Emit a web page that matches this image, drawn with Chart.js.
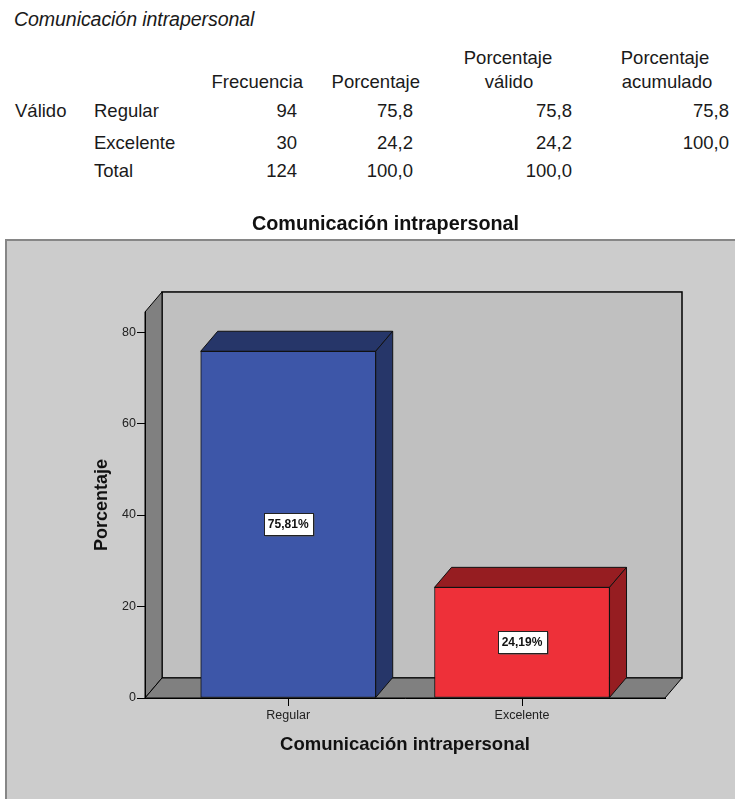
<!DOCTYPE html>
<html>
<head>
<meta charset="utf-8">
<script src="https://cdn.jsdelivr.net/npm/chart.js@4/dist/chart.umd.min.js"></script>
<style>
  html, body { margin: 0; padding: 0; background: #fff; width: 735px; height: 799px; overflow: hidden; }
  body { position: relative; font-family: 'Liberation Sans', Arial, sans-serif; color: #1a1a1a; }
  .t { position: absolute; font-size: 18.5px; line-height: 18.5px; white-space: nowrap; }
  .r { text-align: right; }
  .c { text-align: center; width: 200px; }
  .i { font-style: italic; font-size: 19.6px; line-height: 19.6px; letter-spacing: -0.1px; }
  #wrap { position: absolute; left: 0; top: 200px; width: 735px; height: 599px; }
</style>
</head>
<body>
<div id="tabla"></div>
<div id="wrap"><canvas id="grafico" width="735" height="599"></canvas></div>
<script>
// Frequency table values
const titulo = 'Comunicación intrapersonal';
const categories = ['Regular', 'Excelente'];
const frecuencia = [94, 30];
const tablaPorcentaje = ['75,8', '24,2'];
const tablaValido = ['75,8', '24,2'];
const tablaAcumulado = ['75,8', '100,0'];
const filaTotal = ['Total', '124', '100,0', '100,0'];

// Bar chart values (percent of cases)
const porcentaje = [75.81, 24.19];
const yTicks = [0, 20, 40, 60, 80];

const FONT = "'Liberation Sans', Arial, sans-serif";

// ---- frequency table ----
const tabla = document.getElementById('tabla');
function put(text, cls, style) {
  const s = document.createElement('span');
  s.className = 't ' + cls;
  s.textContent = text;
  Object.assign(s.style, style);
  tabla.appendChild(s);
}
put(titulo, 'i', { left: '14px', top: '10px' });
put('Porcentaje', 'c', { left: '408px', top: '49px' });
put('Porcentaje', 'c', { left: '565px', top: '49px' });
put('Frecuencia', 'r', { right: '432px', top: '73px' });
put('Porcentaje', 'r', { right: '315px', top: '73px' });
put('válido', 'c', { left: '409px', top: '73px' });
put('acumulado', 'c', { left: '567px', top: '73px' });
put('Válido', '', { left: '15px', top: '102px' });
const filaTop = [102, 134, 162];
categories.forEach((cat, i) => {
  const top = filaTop[i] + 'px';
  put(cat, '', { left: '94px', top });
  put(String(frecuencia[i]), 'r', { right: '438px', top });
  put(tablaPorcentaje[i], 'r', { right: '322px', top });
  put(tablaValido[i], 'r', { right: '163px', top });
  put(tablaAcumulado[i], 'r', { right: '6px', top });
});
put(filaTotal[0], '', { left: '94px', top: filaTop[2] + 'px' });
put(filaTotal[1], 'r', { right: '438px', top: filaTop[2] + 'px' });
put(filaTotal[2], 'r', { right: '322px', top: filaTop[2] + 'px' });
put(filaTotal[3], 'r', { right: '163px', top: filaTop[2] + 'px' });

// ---- 3D bar chart ----
const DX = 17, DY = -20;               // depth offset of the 3D box
const frente = ['#3d56a8', '#ee3039'];  // front faces
const sombra = ['#263669', '#961d21'];  // top and side faces

const panel3d = {
  id: 'panel3d',
  afterLayout(chart) {
    // centre the chart title over the whole panel
    const tb = chart.titleBlock;
    if (tb) {
      const shift = 385.5 - (tb.left + tb.right) / 2;
      tb.left += shift; tb.right += shift;
    }
  },
  beforeDraw(chart) {
    const { ctx, chartArea: { left: L, right: R, top: T, bottom: B } } = chart;
    ctx.save();
    // grey frame
    ctx.fillStyle = '#cccccc';
    ctx.fillRect(6, 40, 760, 600);
    ctx.strokeStyle = '#868686';
    ctx.lineWidth = 2;
    ctx.strokeRect(6, 40, 760, 600);
    ctx.lineWidth = 1;
    ctx.strokeStyle = '#000';
    // back wall
    ctx.fillStyle = '#c0c0c0';
    ctx.fillRect(L + DX, T + DY, R - L, B - T);
    ctx.lineWidth = 1.5;
    ctx.strokeRect(L + DX, T + DY, R - L, B - T);
    ctx.lineWidth = 1;
    // left wall
    ctx.fillStyle = '#808080';
    ctx.beginPath();
    ctx.moveTo(L, T); ctx.lineTo(L + DX, T + DY); ctx.lineTo(L + DX, B + DY); ctx.lineTo(L, B);
    ctx.closePath(); ctx.fill(); ctx.stroke();
    // floor
    ctx.beginPath();
    ctx.moveTo(L, B); ctx.lineTo(L + DX, B + DY); ctx.lineTo(R + DX, B + DY); ctx.lineTo(R, B);
    ctx.closePath(); ctx.fill(); ctx.stroke();
    ctx.restore();
  },
  beforeDatasetsDraw(chart) {
    const { ctx } = chart;
    const meta = chart.getDatasetMeta(0);
    ctx.save();
    ctx.strokeStyle = '#111';
    ctx.lineWidth = 1;
    meta.data.forEach((el, i) => {
      const { x, y, base, width } = el.getProps(['x', 'y', 'base', 'width'], true);
      const l = x - width / 2, r = x + width / 2;
      ctx.fillStyle = sombra[i];
      // top face
      ctx.beginPath();
      ctx.moveTo(l, y); ctx.lineTo(l + DX, y + DY); ctx.lineTo(r + DX, y + DY); ctx.lineTo(r, y);
      ctx.closePath(); ctx.fill(); ctx.stroke();
      // side face
      ctx.beginPath();
      ctx.moveTo(r, y); ctx.lineTo(r + DX, y + DY); ctx.lineTo(r + DX, base + DY); ctx.lineTo(r, base);
      ctx.closePath(); ctx.fill(); ctx.stroke();
    });
    ctx.restore();
  },
  afterDatasetsDraw(chart) {
    const { ctx } = chart;
    const meta = chart.getDatasetMeta(0);
    ctx.save();
    ctx.font = 'bold 12px ' + FONT;
    ctx.textAlign = 'center';
    ctx.textBaseline = 'middle';
    meta.data.forEach((el, i) => {
      const { x, y, base } = el.getProps(['x', 'y', 'base'], true);
      const txt = porcentaje[i].toFixed(2).replace('.', ',') + '%';
      const w = Math.round(ctx.measureText(txt).width) + 8, h = 22;
      const cy = (y + base) / 2;
      const bx = Math.round(x - w / 2) + 0.5, by = Math.round(cy - h / 2) + 0.5;
      ctx.fillStyle = '#555';
      ctx.fillRect(bx + 1, by + 1, w, h);
      ctx.fillStyle = '#fff';
      ctx.fillRect(bx, by, w, h);
      ctx.strokeStyle = '#222';
      ctx.strokeRect(bx, by, w, h);
      ctx.fillStyle = '#111';
      ctx.fillText(txt, x, cy + 0.5);
    });
    ctx.restore();
  }
};

new Chart(document.getElementById('grafico'), {
  type: 'bar',
  data: {
    datasets: [{
      data: categories.map((c, i) => ({ x: i + 1, y: porcentaje[i] })),
      backgroundColor: frente,
      borderColor: '#111',
      borderWidth: 1,
      borderSkipped: false,
      barThickness: 175
    }]
  },
  options: {
    responsive: false,
    devicePixelRatio: 1,
    animation: false,
    layout: { padding: { left: 0, right: 70, top: 0, bottom: 0 } },
    plugins: {
      legend: { display: false },
      tooltip: { enabled: false },
      title: {
        display: true,
        text: titulo,
        color: '#111',
        font: { family: FONT, size: 19.8, weight: 'bold', lineHeight: 1.2 },
        padding: { top: 13.1, bottom: 75.1 }
      }
    },
    scales: {
      x: {
        type: 'linear',
        offset: false,
        min: 0.3875,
        max: 2.6115,
        afterBuildTicks: s => { s.ticks = categories.map((c, i) => ({ value: i + 1 })); },
        afterFit: s => { s.height = 101; },
        ticks: {
          callback: v => categories[v - 1] ?? '',
          color: '#222',
          font: { family: FONT, size: 12.5 },
          padding: 2,
          autoSkip: false,
          maxRotation: 0
        },
        grid: { offset: false, drawOnChartArea: false, drawTicks: true, tickLength: 8, color: '#000', tickColor: '#000' },
        border: { display: true, color: '#000', width: 1 },
        title: {
          display: true,
          text: titulo,
          color: '#111',
          font: { family: FONT, size: 18.5, weight: 'bold', lineHeight: 1.2 },
          padding: { top: 0, bottom: 42.9 }
        }
      },
      y: {
        type: 'linear',
        min: 0,
        max: 84.4,
        afterBuildTicks: s => { s.ticks = yTicks.map(v => ({ value: v })); },
        afterFit: s => { s.width = 145; },
        ticks: { color: '#222', font: { family: FONT, size: 12.5 }, padding: 1 },
        grid: { drawOnChartArea: false, drawTicks: true, tickLength: 8, color: '#000', tickColor: '#000' },
        border: { display: true, color: '#000', width: 1 },
        title: {
          display: true,
          text: 'Porcentaje',
          color: '#111',
          font: { family: FONT, size: 18, weight: 'bold', lineHeight: 1.2 },
          padding: { top: 91.2, bottom: 0 }
        }
      }
    }
  },
  plugins: [panel3d]
});
</script>
</body>
</html>
